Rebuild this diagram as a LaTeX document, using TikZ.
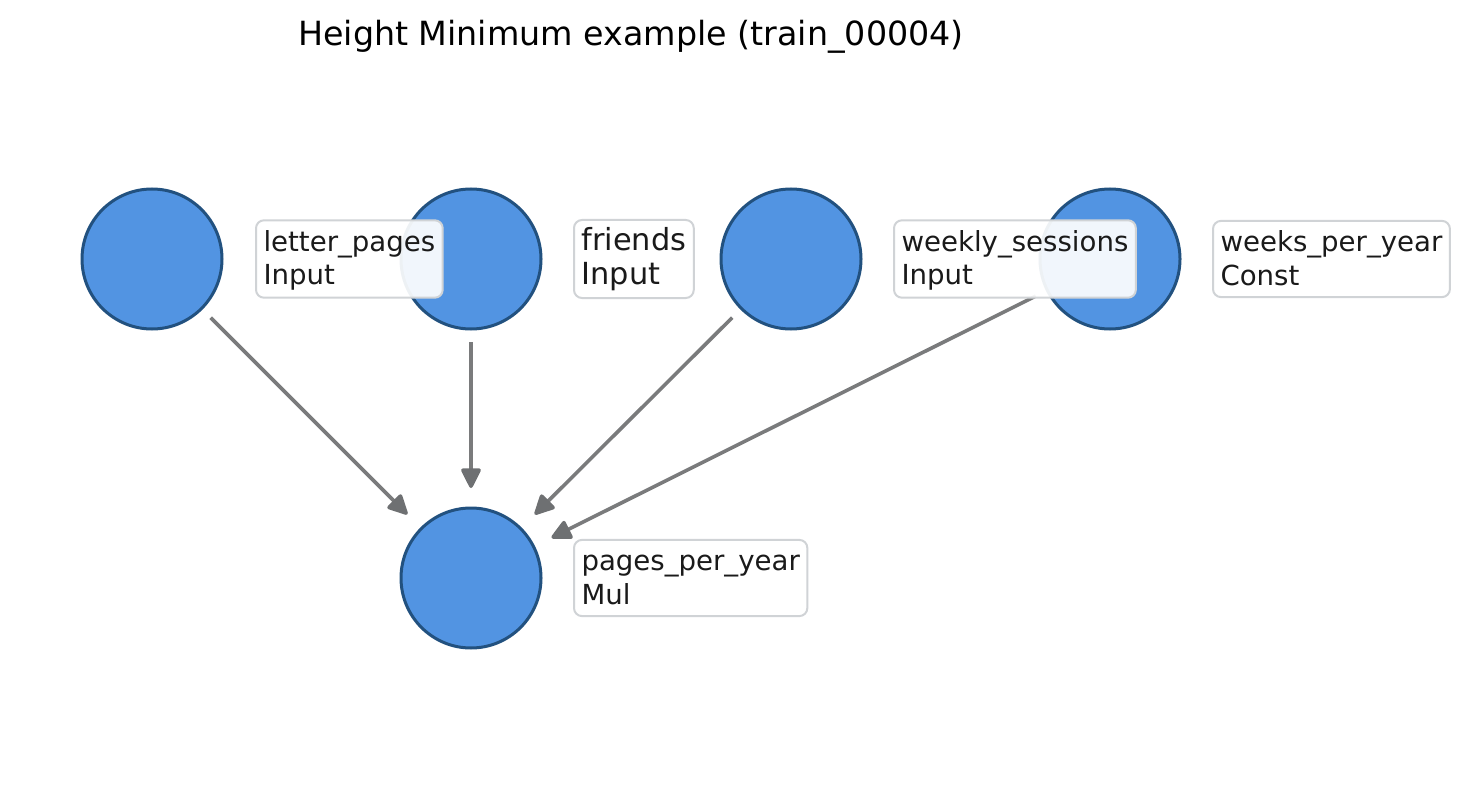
\documentclass[tikz,border=0pt]{standalone}
\usepackage{fontspec}
\setmainfont{DejaVu Sans}
\usetikzlibrary{arrows.meta}
\definecolor{nodefill}{HTML}{5294E2}
\definecolor{nodeedge}{HTML}{22517F}
\definecolor{edgegray}{HTML}{7A7B7C}
\definecolor{headgray}{HTML}{6E7072}
\definecolor{boxedge}{HTML}{D0D3D6}
\definecolor{txt}{HTML}{1A1A1A}
\newcommand\lineA{\rule{0pt}{23.5pt}}
\newcommand\lineB{\rule[-4.5pt]{0pt}{4.5pt}}
\tikzset{headtip/.tip={Triangle[length=22pt,width=21pt,line join=round,color=headgray]}}
\begin{document}
\begin{tikzpicture}[x=1pt,y=-1pt,
  gnode/.style={circle,minimum size=140pt,inner sep=0pt,outer sep=0pt,fill=nodefill,draw=nodeedge,line width=3pt},
  lbl/.style={anchor=west,draw=boxedge,line width=2pt,rounded corners=8pt,fill=white,fill opacity=0.92,text opacity=1,text=txt,inner sep=7.5pt,align=left,font=\fontsize{27.6}{33.2}\selectfont},
  arr/.style={draw=edgegray,line width=3.6pt,-headtip,shorten <=13pt,shorten >=20pt}
]
\useasboundingbox (0,0) rectangle (1462,797);
\node[anchor=base,font=\fontsize{33.3}{40}\selectfont] (title) at (631,46) {Height Minimum example (train\_00004)};
\node[gnode] (lp) at (152,259) {};
\node[gnode] (fr) at (471,259) {};
\node[gnode] (ws) at (791,259) {};
\node[gnode] (wy) at (1110,259) {};
\node[gnode] (py) at (471,578) {};
\draw[arr] (lp) -- (py);
\draw[arr] (fr) -- (py);
\draw[arr] (ws) -- (py);
\draw[arr] (wy) -- (py);
\node[lbl] (llp) at (255,259) {\lineA letter\_pages\\Input\lineB};
\node[lbl,font=\fontsize{30.4}{33.2}\selectfont] (lfr) at (573,259) {\lineA friends\\Input\lineB};
\node[lbl] (lws) at (893,259) {\lineA weekly\_sessions\\Input\lineB};
\node[lbl] (lwy) at (1212,259) {\lineA weeks\_per\_year\\Const\lineB};
\node[lbl] (lpy) at (573,578) {\lineA pages\_per\_year\\Mul\lineB};
\end{tikzpicture}
\end{document}
